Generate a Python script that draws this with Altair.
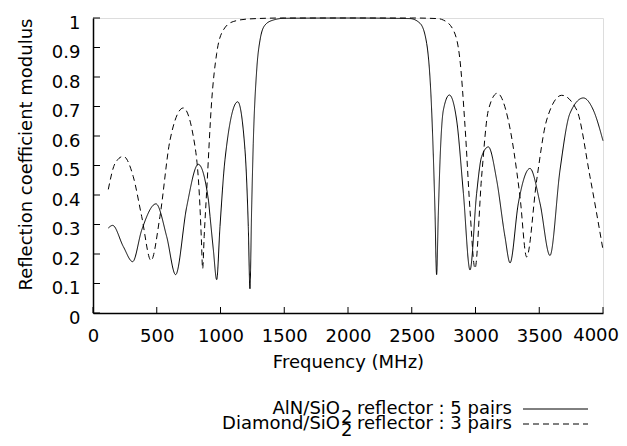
import altair as alt
import pandas as pd

# ---- data ----
aln_freq = [120, 154, 238, 311, 382, 494, 578, 648, 735, 826, 905, 918, 944, 970, 996, 1035, 1135,
            1192, 1218, 1231, 1244, 1257, 1284, 1310, 1349, 1414, 1500, 2000, 2486, 2565, 2617,
            2656, 2682, 2695, 2708, 2722, 2748, 2795, 2852, 2905, 2957, 3009, 3048, 3101, 3166,
            3231, 3271, 3336, 3427, 3506, 3584, 3663, 3741, 3846, 3924, 4000]
aln_val = [0.288, 0.297, 0.225, 0.174, 0.281, 0.370, 0.259, 0.130, 0.360, 0.504, 0.383, 0.327, 0.214, 0.113, 0.293, 0.519, 0.716,
           0.553, 0.293, 0.082, 0.349, 0.575, 0.824, 0.925, 0.976, 0.993, 0.999, 1.0, 0.998, 0.982, 0.914,
           0.688, 0.349, 0.130, 0.330, 0.519, 0.688, 0.739, 0.654, 0.406, 0.146, 0.406, 0.530, 0.563, 0.451,
           0.259, 0.170, 0.372, 0.490, 0.372, 0.195, 0.485, 0.677, 0.729, 0.688, 0.584]

dia_freq = [120, 173, 238, 316, 382, 455, 525, 604, 708, 787, 839, 850, 860, 872, 892, 931, 970,
            1022, 1100, 1231, 1500, 2000, 2500, 2700, 2748, 2826, 2878, 2918, 2957, 2996, 3048,
            3101, 3171, 3257, 3349, 3401, 3480, 3558, 3676, 3794, 3898, 4000]
dia_val = [0.419, 0.507, 0.531, 0.462, 0.327, 0.178, 0.327, 0.586, 0.695, 0.598, 0.360, 0.250, 0.150, 0.260, 0.417, 0.720, 0.880,
           0.959, 0.988, 0.997, 1.0, 1.0, 1.0, 0.998, 0.993, 0.959, 0.858, 0.632, 0.349, 0.151, 0.462,
           0.688, 0.745, 0.654, 0.394, 0.190, 0.451, 0.654, 0.738, 0.688, 0.462, 0.214]

series_names = ["AlN/SiO2 reflector : 5 pairs", "Diamond/SiO2 reflector : 3 pairs"]
legend_prefix = ["AlN/SiO", "Diamond/SiO"]
legend_sub = ["2", "2"]
legend_suffix = ["reflector : 5 pairs", "reflector : 3 pairs"]

x_ticks = [0, 500, 1000, 1500, 2000, 2500, 3000, 3500, 4000]
y_ticks = [0, 0.1, 0.2, 0.3, 0.4, 0.5, 0.6, 0.7, 0.8, 0.9, 1.0]

W, H = 510, 295
FONT = "DejaVu Sans"
FS = 18
DASHES = [[1, 0], [6, 4]]

df = pd.concat([
    pd.DataFrame({"f": aln_freq, "r": aln_val, "s": series_names[0]}),
    pd.DataFrame({"f": dia_freq, "r": dia_val, "s": series_names[1]}),
])

xs = alt.Scale(domain=[0, 4000], nice=False, zero=False)
ys = alt.Scale(domain=[0, 1], nice=False, zero=False)

common_axis = dict(ticks=False, tickSize=0, grid=False, domain=True, domainColor="black", domainWidth=1.5,
                   labelFont=FONT, labelFontSize=FS, labelColor="black", labelOverlap=False,
                   labelFlush=False, labelBound=False,
                   titleFont=FONT, titleFontSize=FS, titleFontWeight="normal", titleColor="black",
                   titleBaseline="alphabetic")

# the last x label (4000) is drawn as its own text so that it stays inside the page
x_axis = alt.Axis(values=x_ticks[:-1], format="d", title="Frequency (MHz)", labelBaseline="alphabetic",
                  labelPadding=28, titleY=54, **common_axis)
y_axis = alt.Axis(values=y_ticks, format=".1~f", title="Reflection coefficient modulus",
                  labelBaseline="alphabetic", labelPadding=13, labelOffset=10,
                  titleX=-62, titleY=136, titleAngle=-90, **common_axis)

lines = alt.Chart(df).mark_line(color="black", strokeWidth=1, interpolate="monotone").encode(
    x=alt.X("f:Q", scale=xs, axis=x_axis),
    y=alt.Y("r:Q", scale=ys, axis=y_axis),
    strokeDash=alt.StrokeDash("s:N", scale=alt.Scale(domain=series_names, range=DASHES), legend=None),
    detail="s:N",
)

xt = alt.Chart(pd.DataFrame({"f": x_ticks})).mark_rule(color="black", strokeWidth=1).encode(
    x=alt.X("f:Q", scale=xs, axis=x_axis), y=alt.value(H), y2=alt.value(H - 6))
yt = alt.Chart(pd.DataFrame({"r": y_ticks})).mark_rule(color="black", strokeWidth=1).encode(
    y=alt.Y("r:Q", scale=ys, axis=y_axis), x=alt.value(0), x2=alt.value(7))

last_lab = alt.Chart(pd.DataFrame({"f": x_ticks[-1:], "lab": [str(v) for v in x_ticks[-1:]]})).mark_text(
    font=FONT, fontSize=FS, align="right", baseline="alphabetic", color="black", dx=16
).encode(x=alt.X("f:Q", scale=xs, axis=x_axis), y=alt.value(H + 28), text="lab:N")

one = pd.DataFrame({"k": [0]})


def txt(s, x, y, align):
    return alt.Chart(one).mark_text(font=FONT, fontSize=FS, align=align, baseline="alphabetic",
                                    color="black").encode(x=alt.value(x), y=alt.value(y), text=alt.value(s))


legend_layers = []
base_y = [396, 411]
sub_y = [405, 418]
line_y = [391, 406]
for i in range(2):
    legend_layers.append(txt(legend_prefix[i], 247, base_y[i], "right"))
    legend_layers.append(txt(legend_sub[i], 248, sub_y[i], "left"))
    legend_layers.append(txt(legend_suffix[i], 264, base_y[i], "left"))
    legend_layers.append(
        alt.Chart(one).mark_rule(color="black", strokeWidth=1, strokeDash=DASHES[i]).encode(
            x=alt.value(430), x2=alt.value(495), y=alt.value(line_y[i])))

chart = alt.layer(lines, xt, yt, last_lab, *legend_layers).properties(
    width=W, height=H,
    autosize=alt.AutoSizeParams(type="none"),
    padding={"left": 85, "top": 10, "right": 16, "bottom": 125},
).configure_view(stroke="black", strokeWidth=1.5).configure(background="white")

chart.save("out.html", embed_options={"renderer": "svg", "actions": False})
